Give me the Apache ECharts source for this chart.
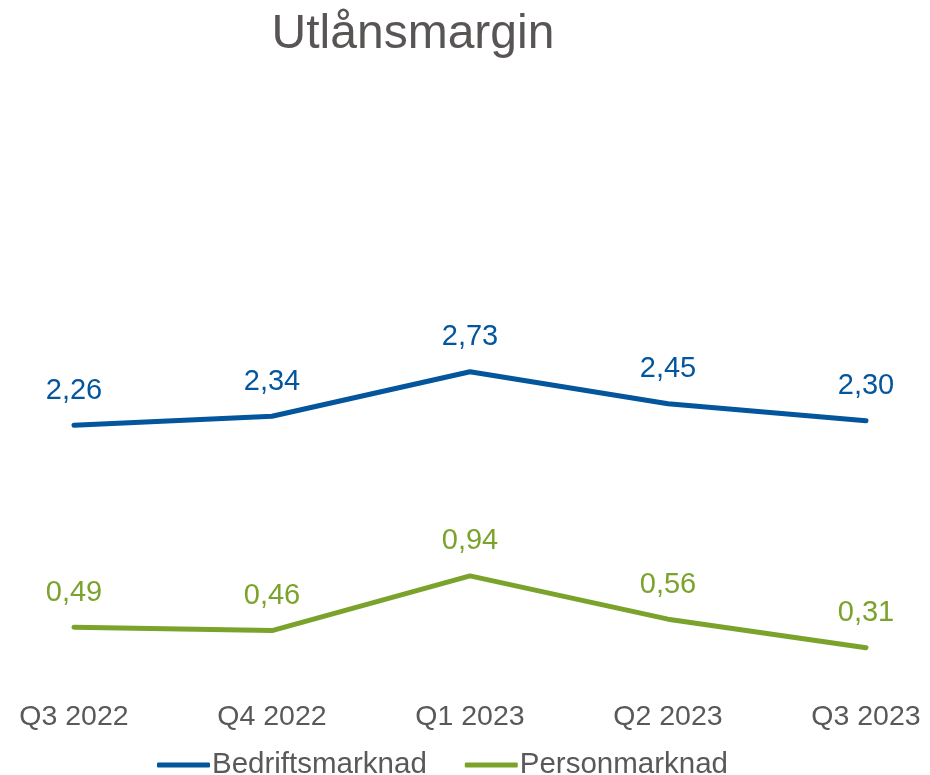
<!DOCTYPE html>
<html>
<head>
<meta charset="utf-8">
<script src="https://cdn.jsdelivr.net/npm/echarts@6/dist/echarts.min.js"></script>
<style>
  html, body { margin: 0; padding: 0; background: #fff; }
  #chart { width: 930px; height: 775px; }
</style>
</head>
<body>
<div id="chart"></div>
<script>
// kvartaler og utlånsmargin i prosent
const quarters = ['Q3 2022', 'Q4 2022', 'Q1 2023', 'Q2 2023', 'Q3 2023'];
const bedrift = [2.26, 2.34, 2.73, 2.45, 2.30];
const person = [0.49, 0.46, 0.94, 0.56, 0.31];

const blue = '#03569c';
const green = '#7ba32c';
const grey = '#595959';
const font = 'Liberation Sans, Arial, sans-serif';

const fmt = p => p.value.toFixed(2).replace('.', ',');

const chart = echarts.init(document.getElementById('chart'));

function lineSeries(name, data, color) {
    return {
        name: name,
        type: 'line',
        data: data,
        symbol: 'circle',
        symbolSize: 0,
        color: color,
        lineStyle: { width: 5, color: color, cap: 'round' },
        label: {
            show: true, position: 'top', distance: 20, formatter: fmt,
            color: color, fontSize: 29, fontFamily: font
        }
    };
}

chart.setOption({
    animation: false,
    title: {
        text: 'Utlånsmargin',
        left: 408,
        textAlign: 'center',
        top: 6,
        textStyle: { color: '#595555', fontSize: 48, fontWeight: 'normal', fontFamily: font }
    },
    legend: {
        left: 157,
        top: 750,
        padding: 0,
        icon: 'roundRect',
        itemWidth: 53,
        itemHeight: 5,
        itemGap: 38,
        textStyle: { color: grey, fontSize: 29.5, fontFamily: font, padding: [0, 0, 0, -3] },
        data: ['Bedriftsmarknad', 'Personmarknad']
    },
    grid: { left: 74, right: 64, top: 113, bottom: 92 },
    xAxis: {
        type: 'category',
        boundaryGap: false,
        data: quarters,
        axisLine: { show: false },
        axisTick: { show: false },
        axisLabel: { color: grey, fontSize: 28.5, fontFamily: font, margin: 20 }
    },
    yAxis: {
        type: 'value',
        min: 0,
        max: 5,
        show: false,
        splitLine: { show: false }
    },
    series: [
        lineSeries('Bedriftsmarknad', bedrift, blue),
        lineSeries('Personmarknad', person, green)
    ]
});
</script>
</body>
</html>
